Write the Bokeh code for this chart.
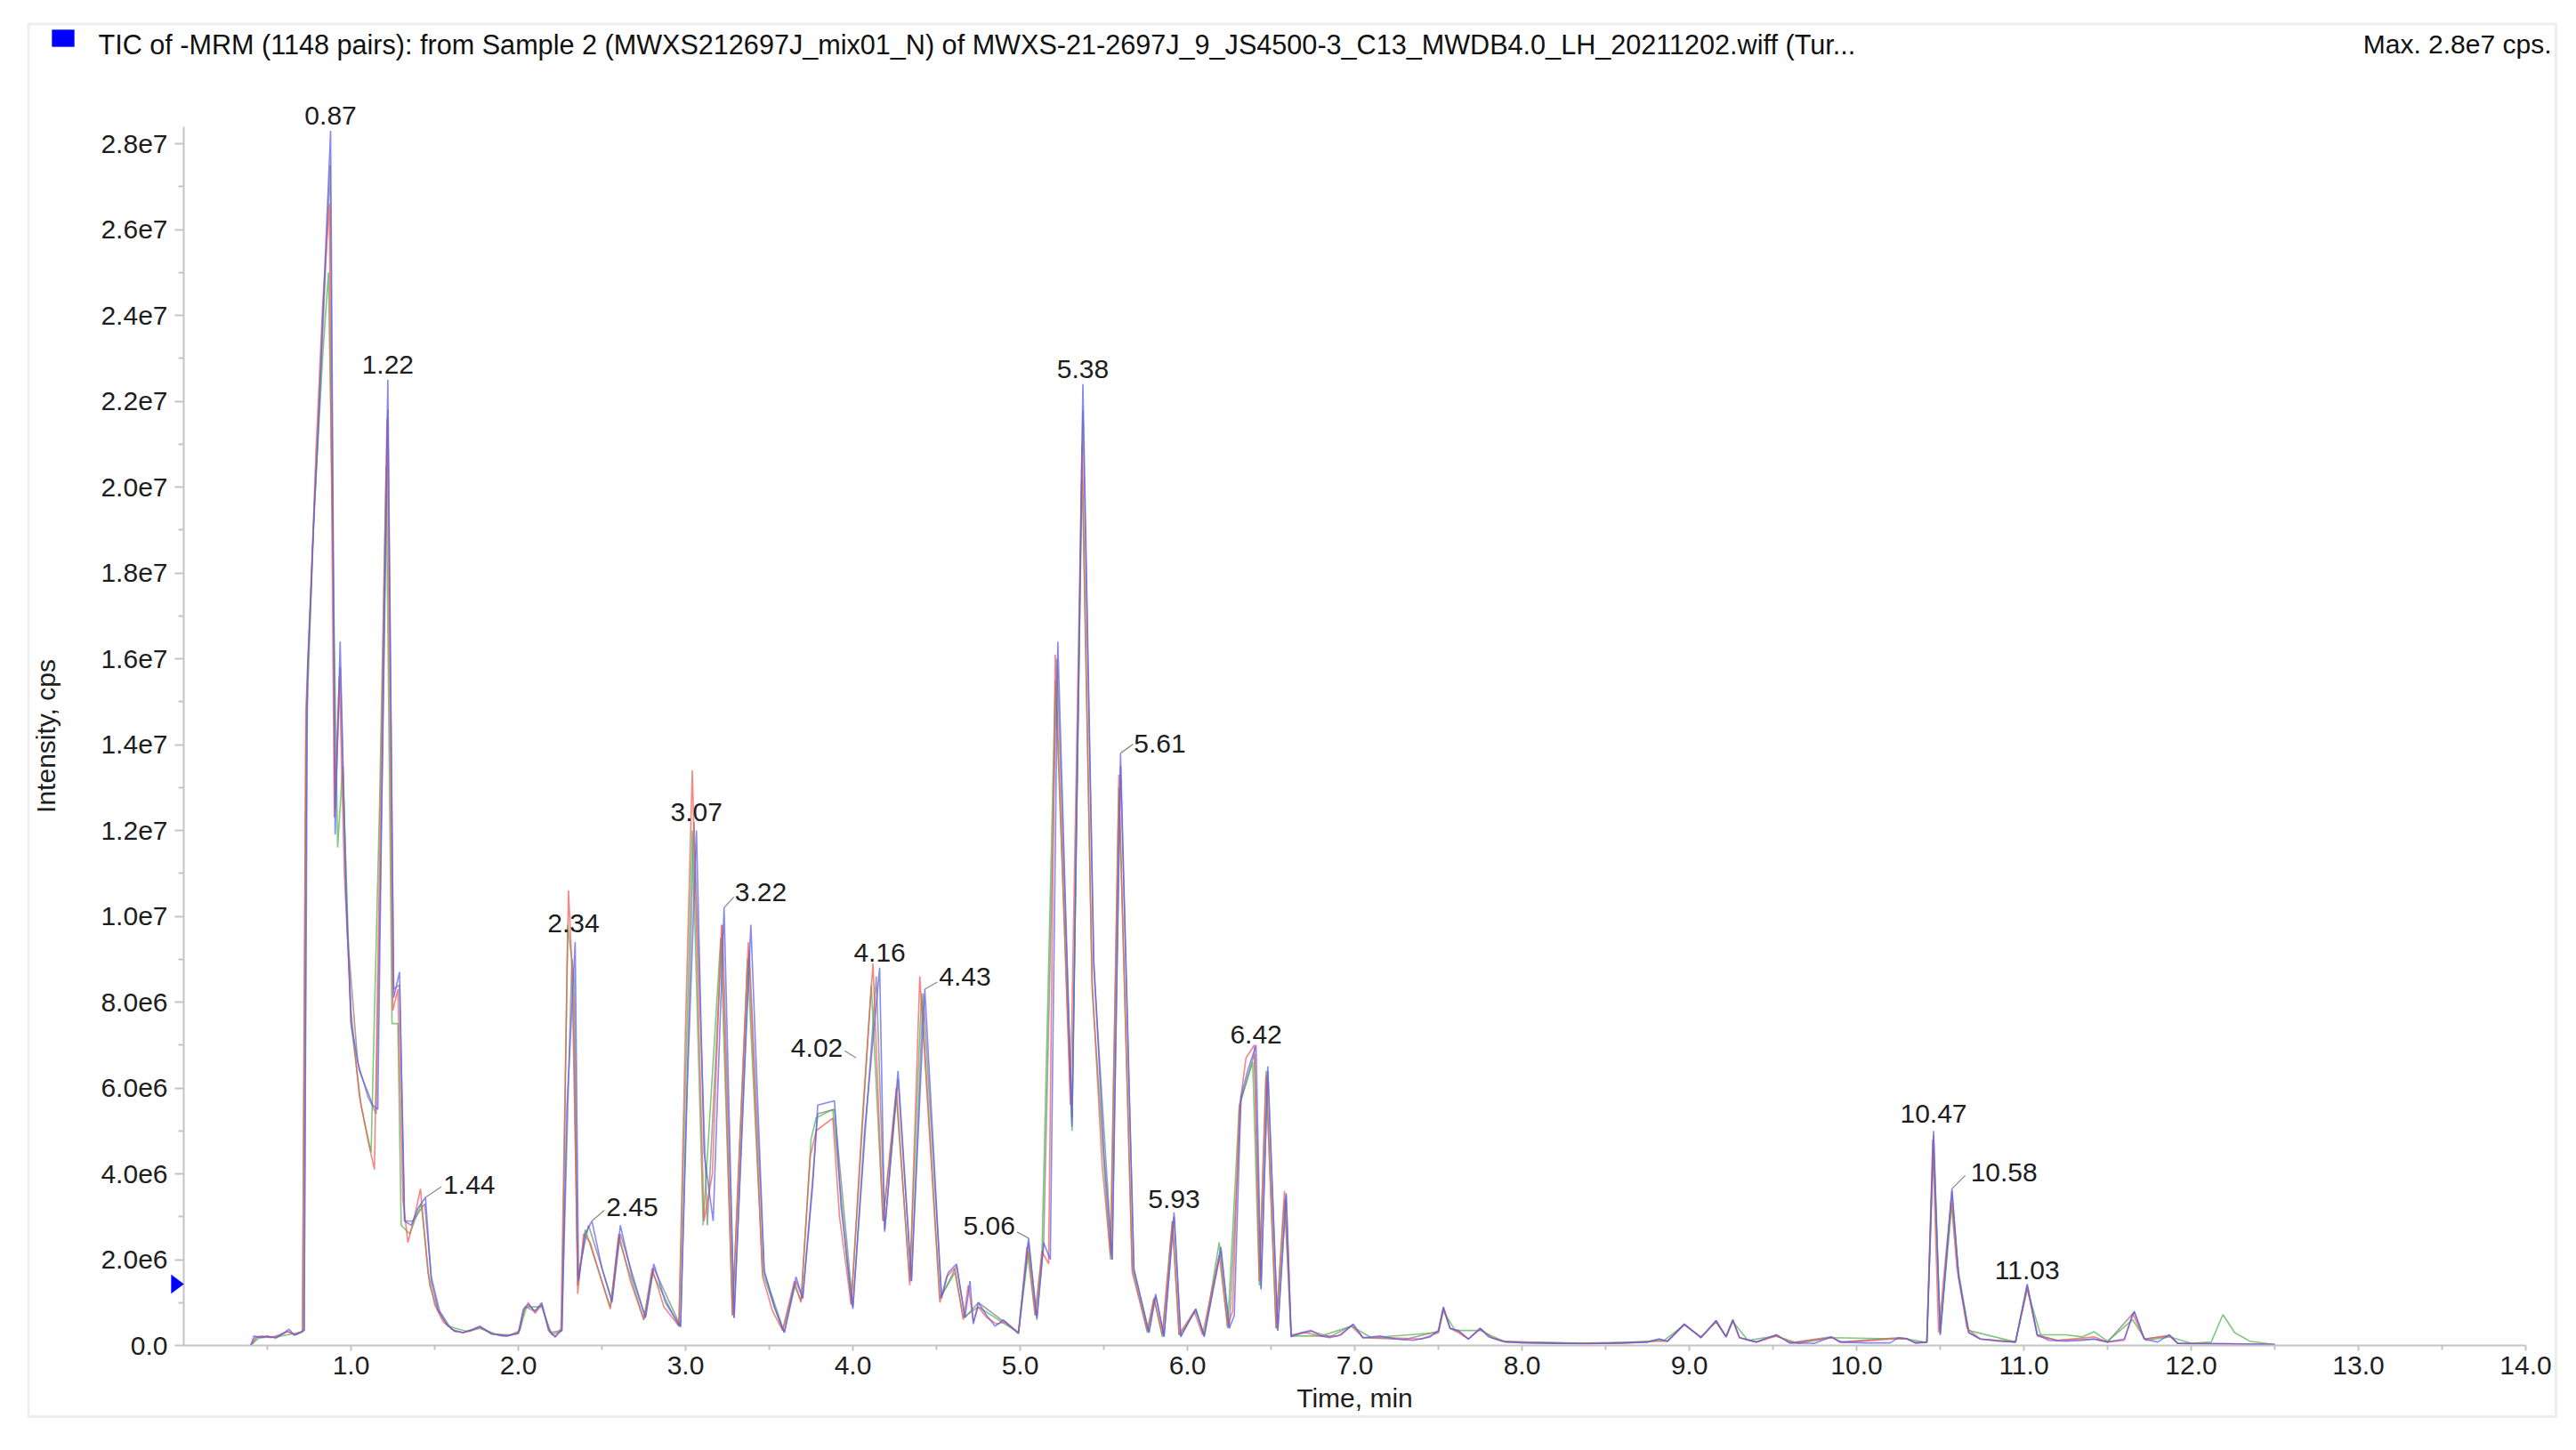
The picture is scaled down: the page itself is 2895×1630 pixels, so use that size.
from bokeh.plotting import figure
from bokeh.models import FixedTicker, Label, PolyAnnotation, ColumnDataSource
from bokeh.embed import file_html
from bokeh.resources import INLINE
from bokeh.core.properties import value

# ---------------- DATA (intensities in millions of cps) ----------------
MIO = 1e6

blue_t = [0.40, 0.42, 0.46, 0.50, 0.55, 0.59, 0.63, 0.66, 0.70, 0.72, 0.74, 0.77, 0.80, 0.84, 0.878,
          0.905, 0.935, 0.97, 1.00, 1.05, 1.10, 1.13, 1.16, 1.19, 1.22, 1.255, 1.29, 1.32, 1.36, 1.40,
          1.445, 1.48, 1.52, 1.57, 1.62, 1.67, 1.72, 1.77, 1.84, 1.93, 2.00, 2.03, 2.06, 2.10, 2.14,
          2.18, 2.22, 2.26, 2.29, 2.34, 2.36, 2.40, 2.44, 2.50, 2.56, 2.61, 2.68, 2.76, 2.81, 2.88,
          2.97, 3.01, 3.065, 3.11, 3.165, 3.23, 3.29, 3.39, 3.47, 3.53, 3.59, 3.66, 3.70, 3.76, 3.79,
          3.89, 3.93, 4.00, 4.07, 4.16, 4.19, 4.27, 4.35, 4.43, 4.53, 4.57, 4.62, 4.67, 4.70, 4.72,
          4.75, 4.80, 4.85, 4.90, 4.99, 5.05, 5.10, 5.14, 5.18, 5.225, 5.31, 5.375, 5.44, 5.50, 5.55,
          5.60, 5.68, 5.77, 5.81, 5.86, 5.92, 5.96, 6.05, 6.10, 6.20, 6.25, 6.28, 6.32, 6.36, 6.41,
          6.44, 6.48, 6.54, 6.59, 6.62, 6.68, 6.74, 6.80, 6.85, 6.92, 6.99, 7.05, 7.15, 7.25, 7.35,
          7.45, 7.50, 7.53, 7.57, 7.62, 7.68, 7.75, 7.80, 7.88, 8.00, 8.20, 8.40, 8.60, 8.75, 8.82,
          8.87, 8.97, 9.07, 9.16, 9.22, 9.26, 9.30, 9.40, 9.52, 9.60, 9.75, 9.85, 9.90, 10.05, 10.20,
          10.25, 10.30, 10.35, 10.42, 10.46, 10.50, 10.57, 10.61, 10.67, 10.74, 10.85, 10.95, 11.02, 11.08, 11.15,
          11.25, 11.35, 11.42, 11.50, 11.60, 11.66, 11.72, 11.80, 11.87, 11.92, 12.00, 12.20, 12.40, 12.50]
blue_i = [0.00, 0.22, 0.18, 0.22, 0.17, 0.27, 0.38, 0.24, 0.30, 0.36, 15.8, 18.6, 21.0, 24.8, 28.3,
          11.9, 16.4, 10.5, 7.5, 6.4, 5.9, 5.6, 5.5, 14.5, 22.5, 8.1, 8.7, 2.9, 2.8, 3.2,
          3.45, 1.5, 0.85, 0.50, 0.33, 0.30, 0.36, 0.45, 0.27, 0.22, 0.28, 0.85, 0.95, 0.80, 1.00,
          0.35, 0.20, 0.35, 5.5, 9.4, 1.5, 2.6, 2.9, 1.8, 1.0, 2.8, 1.6, 0.65, 1.9, 1.0,
          0.43, 6.0, 12.0, 4.5, 2.9, 10.2, 0.64, 9.8, 1.75, 0.9, 0.30, 1.6, 1.1, 3.75, 5.6,
          5.7, 3.2, 0.85, 5.0, 8.8, 2.65, 6.4, 1.5, 8.3, 1.1, 1.7, 1.9, 0.65, 1.5, 0.50,
          1.0, 0.7, 0.45, 0.6, 0.27, 2.5, 0.6, 2.4, 2.0, 16.4, 5.1, 22.4, 9.0, 4.5, 2.0,
          13.8, 1.75, 0.30, 1.2, 0.20, 3.1, 0.20, 0.85, 0.20, 2.3, 0.40, 0.70, 5.8, 6.4, 7.0,
          1.3, 6.5, 0.35, 3.55, 0.20, 0.30, 0.35, 0.22, 0.18, 0.25, 0.50, 0.18, 0.22, 0.15, 0.12,
          0.20, 0.35, 0.90, 0.40, 0.35, 0.15, 0.40, 0.20, 0.10, 0.06, 0.05, 0.04, 0.06, 0.08, 0.15,
          0.10, 0.50, 0.18, 0.58, 0.20, 0.60, 0.18, 0.08, 0.25, 0.06, 0.05, 0.20, 0.08, 0.06, 0.06,
          0.18, 0.16, 0.06, 0.08, 5.0, 0.25, 3.65, 1.6, 0.30, 0.15, 0.10, 0.08, 1.43, 0.25, 0.12,
          0.10, 0.12, 0.15, 0.08, 0.15, 0.80, 0.15, 0.08, 0.25, 0.05, 0.04, 0.04, 0.03, 0.02]

red_t = [0.40, 0.43, 0.47, 0.52, 0.57, 0.62, 0.66, 0.71, 0.73, 0.76, 0.79, 0.83, 0.87, 0.90, 0.93,
         0.96, 1.00, 1.05, 1.10, 1.14, 1.18, 1.215, 1.25, 1.28, 1.31, 1.34, 1.38, 1.415, 1.46, 1.50,
         1.55, 1.62, 1.67, 1.72, 1.77, 1.84, 1.93, 2.00, 2.03, 2.06, 2.10, 2.14, 2.18, 2.22, 2.255,
         2.30, 2.33, 2.355, 2.39, 2.43, 2.49, 2.55, 2.60, 2.67, 2.75, 2.80, 2.87, 2.96, 3.00, 3.04,
         3.11, 3.16, 3.215, 3.28, 3.375, 3.46, 3.52, 3.58, 3.65, 3.69, 3.745, 3.78, 3.88, 3.92, 3.99,
         4.06, 4.12, 4.18, 4.26, 4.34, 4.40, 4.52, 4.56, 4.61, 4.66, 4.69, 4.72, 4.75, 4.80, 4.86,
         4.91, 4.99, 5.04, 5.09, 5.13, 5.17, 5.21, 5.30, 5.37, 5.43, 5.49, 5.54, 5.59, 5.67, 5.76,
         5.80, 5.85, 5.91, 5.95, 6.04, 6.09, 6.19, 6.24, 6.27, 6.31, 6.35, 6.40, 6.43, 6.47, 6.53,
         6.58, 6.62, 6.70, 6.80, 6.90, 6.98, 7.05, 7.20, 7.40, 7.50, 7.53, 7.57, 7.62, 7.68, 7.75,
         7.82, 7.90, 8.20, 8.60, 8.80, 8.87, 8.97, 9.07, 9.16, 9.22, 9.26, 9.30, 9.40, 9.52, 9.62,
         9.85, 9.92, 10.25, 10.30, 10.36, 10.42, 10.455, 10.49, 10.565, 10.60, 10.66, 10.74, 10.95, 11.02, 11.08,
         11.20, 11.42, 11.50, 11.60, 11.65, 11.72, 11.87, 11.92, 12.10, 12.40, 12.50]
red_i = [0.00, 0.20, 0.22, 0.18, 0.25, 0.32, 0.26, 0.33, 14.8, 17.5, 20.8, 24.2, 26.6, 12.3, 15.6,
         11.0, 7.8, 5.8, 4.8, 4.1, 13.5, 21.6, 7.8, 8.3, 3.4, 2.4, 3.0, 3.65, 1.7, 0.95,
         0.55, 0.33, 0.30, 0.36, 0.42, 0.27, 0.22, 0.30, 0.80, 1.00, 0.75, 0.95, 0.40, 0.20, 0.40,
         10.6, 8.0, 1.2, 2.6, 2.4, 1.6, 0.85, 2.6, 1.5, 0.60, 1.8, 0.9, 0.45, 7.5, 13.4,
         2.9, 4.0, 9.8, 0.70, 9.4, 1.6, 0.8, 0.35, 1.5, 1.0, 4.4, 5.0, 5.3, 3.0, 0.95,
         5.5, 8.9, 2.9, 6.0, 1.4, 8.6, 1.0, 1.6, 1.8, 0.6, 1.4, 0.55, 0.9, 0.65, 0.5,
         0.55, 0.3, 2.3, 0.7, 2.2, 1.9, 16.1, 5.6, 21.0, 8.5, 4.2, 2.1, 13.3, 1.7, 0.35,
         1.1, 0.25, 2.9, 0.25, 0.8, 0.25, 2.1, 0.45, 0.8, 5.5, 6.7, 7.0, 1.5, 6.3, 0.4,
         3.6, 0.25, 0.3, 0.22, 0.22, 0.45, 0.18, 0.18, 0.15, 0.3, 0.85, 0.4, 0.3, 0.15, 0.38,
         0.18, 0.08, 0.05, 0.05, 0.10, 0.10, 0.48, 0.20, 0.55, 0.22, 0.58, 0.18, 0.08, 0.22, 0.06,
         0.18, 0.07, 0.16, 0.15, 0.06, 0.07, 4.8, 0.3, 3.4, 1.8, 0.4, 0.15, 0.08, 1.35, 0.22,
         0.12, 0.20, 0.08, 0.12, 0.75, 0.15, 0.22, 0.05, 0.04, 0.03, 0.02]

green_t = [0.40, 0.45, 0.55, 0.65, 0.71, 0.73, 0.78, 0.83, 0.865, 0.92, 0.95, 1.00, 1.06, 1.12, 1.17,
           1.21, 1.245, 1.28, 1.30, 1.35, 1.42, 1.47, 1.52, 1.58, 1.70, 1.77, 1.90, 2.00, 2.05, 2.14,
           2.20, 2.26, 2.295, 2.335, 2.355, 2.40, 2.55, 2.60, 2.75, 2.80, 2.96, 3.04, 3.105, 3.21, 3.28,
           3.37, 3.46, 3.58, 3.65, 3.69, 3.75, 3.78, 3.88, 3.99, 4.11, 4.18, 4.26, 4.34, 4.41, 4.52,
           4.61, 4.66, 4.75, 4.99, 5.05, 5.09, 5.13, 5.21, 5.31, 5.37, 5.43, 5.54, 5.59, 5.67, 5.76,
           5.80, 5.85, 5.91, 5.95, 6.05, 6.10, 6.19, 6.24, 6.31, 6.39, 6.43, 6.47, 6.53, 6.58, 6.62,
           6.80, 6.98, 7.10, 7.50, 7.53, 7.60, 7.75, 7.90, 8.50, 8.85, 8.97, 9.07, 9.16, 9.22, 9.26,
           9.35, 9.52, 9.65, 9.85, 10.30, 10.42, 10.46, 10.50, 10.57, 10.61, 10.67, 10.95, 11.02, 11.10, 11.25,
           11.35, 11.42, 11.50, 11.65, 11.73, 11.87, 12.00, 12.12, 12.19, 12.26, 12.35, 12.50]
green_i = [0.00, 0.18, 0.20, 0.27, 0.32, 14.0, 19.5, 23.0, 25.0, 11.6, 13.5, 7.5, 5.6, 4.5, 12.5,
           20.5, 7.5, 7.5, 2.8, 2.6, 3.3, 1.4, 0.8, 0.45, 0.32, 0.40, 0.22, 0.28, 0.90, 0.90,
           0.25, 0.35, 9.8, 8.5, 1.4, 2.7, 0.9, 2.5, 0.6, 1.7, 0.45, 12.0, 2.8, 9.5, 0.7,
           9.0, 1.7, 0.35, 1.4, 1.05, 4.8, 5.3, 5.5, 0.95, 8.4, 2.9, 5.8, 1.5, 8.2, 1.1,
           1.7, 0.65, 0.9, 0.3, 2.2, 0.7, 2.1, 15.5, 5.0, 20.5, 8.3, 2.0, 13.0, 1.8, 0.3,
           1.1, 0.2, 2.9, 0.25, 0.8, 0.25, 2.4, 0.4, 5.6, 6.6, 1.4, 6.4, 0.4, 3.4, 0.22,
           0.22, 0.45, 0.18, 0.30, 0.80, 0.35, 0.35, 0.08, 0.05, 0.12, 0.48, 0.20, 0.55, 0.20, 0.56,
           0.12, 0.22, 0.05, 0.18, 0.15, 0.07, 4.6, 0.3, 3.3, 1.7, 0.35, 0.08, 1.3, 0.25, 0.25,
           0.20, 0.32, 0.10, 0.60, 0.12, 0.20, 0.05, 0.08, 0.72, 0.30, 0.10, 0.02]

gray_t = [0.40, 0.44, 0.50, 0.56, 0.62, 0.67, 0.72, 0.735, 0.78, 0.83, 0.875, 0.905, 0.935, 0.98, 1.04,
          1.10, 1.15, 1.19, 1.22, 1.255, 1.29, 1.32, 1.37, 1.44, 1.48, 1.53, 1.60, 1.67, 1.77, 1.85,
          1.95, 2.01, 2.04, 2.10, 2.14, 2.19, 2.26, 2.32, 2.355, 2.42, 2.56, 2.61, 2.76, 2.81, 2.97,
          3.05, 3.13, 3.22, 3.29, 3.38, 3.47, 3.59, 3.66, 3.70, 3.76, 3.79, 3.89, 4.00, 4.14, 4.19,
          4.27, 4.35, 4.42, 4.53, 4.62, 4.67, 4.75, 4.99, 5.05, 5.10, 5.14, 5.22, 5.31, 5.375, 5.44,
          5.55, 5.60, 5.68, 5.77, 5.81, 5.86, 5.92, 5.96, 6.05, 6.10, 6.20, 6.25, 6.32, 6.40, 6.44,
          6.48, 6.54, 6.59, 6.62, 6.74, 6.85, 6.99, 7.05, 7.30, 7.50, 7.53, 7.57, 7.62, 7.68, 7.75,
          7.82, 7.90, 8.30, 8.75, 8.82, 8.87, 8.97, 9.07, 9.16, 9.22, 9.26, 9.30, 9.40, 9.52, 9.60,
          9.85, 9.90, 10.25, 10.30, 10.35, 10.42, 10.46, 10.50, 10.57, 10.61, 10.67, 10.74, 10.95, 11.02, 11.08,
          11.20, 11.42, 11.50, 11.66, 11.72, 11.87, 11.92, 12.20, 12.50]
gray_i = [0.00, 0.20, 0.20, 0.20, 0.33, 0.25, 0.35, 15.0, 19.5, 23.5, 27.5, 12.5, 15.8, 9.5, 6.6,
          5.8, 5.4, 14.0, 21.8, 8.3, 8.4, 2.9, 2.9, 3.3, 1.6, 0.8, 0.38, 0.30, 0.43, 0.27,
          0.24, 0.35, 0.90, 0.80, 0.95, 0.30, 0.35, 9.0, 1.6, 2.8, 1.05, 2.6, 0.65, 1.8, 0.45,
          12.2, 2.8, 9.8, 0.65, 9.2, 1.7, 0.30, 1.5, 1.1, 3.9, 5.4, 5.5, 0.9, 8.6, 2.7,
          6.2, 1.5, 8.2, 1.15, 1.85, 0.65, 1.0, 0.3, 2.4, 0.65, 2.3, 16.0, 5.3, 21.8, 8.8,
          2.0, 13.5, 1.8, 0.3, 1.15, 0.22, 3.0, 0.22, 0.85, 0.22, 2.2, 0.4, 5.7, 6.8, 1.35,
          6.4, 0.35, 3.5, 0.22, 0.33, 0.20, 0.48, 0.18, 0.14, 0.33, 0.88, 0.40, 0.33, 0.15, 0.40,
          0.18, 0.10, 0.05, 0.08, 0.15, 0.10, 0.50, 0.18, 0.58, 0.20, 0.60, 0.18, 0.08, 0.25, 0.06,
          0.20, 0.08, 0.18, 0.16, 0.06, 0.08, 4.9, 0.25, 3.6, 1.6, 0.30, 0.15, 0.08, 1.4, 0.25,
          0.12, 0.15, 0.08, 0.78, 0.15, 0.24, 0.05, 0.04, 0.02]

# annotated peaks: label text, apex time, apex intensity (millions)
peak_labels = ["0.87", "1.22", "1.44", "2.34", "2.45", "3.07", "3.22", "4.02", "4.16",
               "4.43", "5.06", "5.38", "5.61", "5.93", "6.42", "10.47", "10.58", "11.03"]
peak_t = [0.878, 1.22, 1.445, 2.34, 2.44, 3.065, 3.23, 4.02, 4.16,
          4.43, 5.05, 5.375, 5.60, 5.92, 6.41, 10.46, 10.57, 11.02]
peak_i = [28.3, 22.5, 3.45, 9.4, 2.9, 12.0, 10.2, 6.7, 8.8,
          8.3, 2.5, 22.4, 13.8, 3.1, 7.0, 5.0, 3.65, 1.43]

x_tick_values = [1, 2, 3, 4, 5, 6, 7, 8, 9, 10, 11, 12, 13, 14]
x_tick_labels = ["1.0", "2.0", "3.0", "4.0", "5.0", "6.0", "7.0", "8.0", "9.0", "10.0",
                 "11.0", "12.0", "13.0", "14.0"]
x_minor_values = [0.5, 1.5, 2.5, 3.5, 4.5, 5.5, 6.5, 7.5, 8.5, 9.5, 10.5, 11.5, 12.5, 13.5]
y_tick_values = [0, 2000000, 4000000, 6000000, 8000000, 10000000, 12000000, 14000000,
                 16000000, 18000000, 20000000, 22000000, 24000000, 26000000, 28000000]
y_tick_labels = ["0.0", "2.0e6", "4.0e6", "6.0e6", "8.0e6", "1.0e7", "1.2e7", "1.4e7",
                 "1.6e7", "1.8e7", "2.0e7", "2.2e7", "2.4e7", "2.6e7", "2.8e7"]
y_minor_values = [1000000, 3000000, 5000000, 7000000, 9000000, 11000000, 13000000, 15000000,
                  17000000, 19000000, 21000000, 23000000, 25000000, 27000000]

title_left = ("TIC of -MRM (1148 pairs): from Sample 2 (MWXS212697J_mix01_N) of "
              "MWXS-21-2697J_9_JS4500-3_C13_MWDB4.0_LH_20211202.wiff (Tur...")
title_right = "Max. 2.8e7 cps."
x_label = "Time, min"
y_label = "Intensity, cps"
marker_level = 1.43  # millions, blue threshold marker on the y axis

# ---------------- LAYOUT / STYLE ----------------
CANVAS_W, CANVAS_H = 2880, 1610
AX_X0 = 206          # page x of t = 0
PX_PER_MIN = 188.0
AX_Y0 = 1512         # page y of intensity 0
PX_PER_MIO = 48.25
AXIS_T_END = 14
AXIS_I_END = 28.4e6


def page_to_data(X, Y):
    return (X - AX_X0) / PX_PER_MIN, (AX_Y0 - Y) / PX_PER_MIO * MIO


PX_T = 1.0 / PX_PER_MIN
PX_I = MIO / PX_PER_MIO

x0, y_top = page_to_data(0, 0)
x1, y_bot = page_to_data(CANVAS_W, CANVAS_H)

FONT_NAME = "Liberation Sans"
TXT = "#1e1e1e"
AXIS_C = "#c4c4c4"
FS = "30px"
TITLE_FS = "30.6px"
TOP_SHIFT = -9       # extra lift for labels sitting above their peak

p = figure(width=CANVAS_W, height=CANVAS_H, output_backend="svg", toolbar_location=None,
           x_range=(x0, x1), y_range=(y_bot, y_top),
           min_border=0, min_border_left=0, min_border_right=0, min_border_top=0, min_border_bottom=0)
p.background_fill_color = "white"
p.border_fill_color = "white"
p.outline_line_color = None
p.xgrid.visible = False
p.ygrid.visible = False

# series
series = [(gray_t, gray_i, "#808080"), (green_t, green_i, "#4fb34f"),
          (red_t, red_i, "#f25858"), (blue_t, blue_i, "#5a5af2")]
for ts, vs, col in series:
    src = ColumnDataSource(dict(t=ts, v=[a * MIO for a in vs]))
    p.line("t", "v", source=src, line_color=col, line_width=1.6, line_alpha=0.72)

# axes (drawn at fixed data locations so the frame can hold the whole picture)
for ax in (p.xaxis[0], p.yaxis[0]):
    ax.fixed_location = 0
    ax.axis_line_color = AXIS_C
    ax.axis_line_width = 2
    ax.major_tick_line_color = AXIS_C
    ax.minor_tick_line_color = AXIS_C
    ax.major_tick_line_width = 2
    ax.minor_tick_line_width = 2
    ax.major_tick_in = 0
    ax.minor_tick_in = 0
    ax.major_label_text_font = FONT_NAME
    ax.major_label_text_font_size = FS
    ax.major_label_text_color = TXT
    ax.axis_label_text_font = FONT_NAME
    ax.axis_label_text_font_size = FS
    ax.axis_label_text_font_style = "normal"
    ax.axis_label_text_color = TXT

xa = p.xaxis[0]
xa.bounds = (0, AXIS_T_END)
xa.ticker = FixedTicker(ticks=x_tick_values, minor_ticks=x_minor_values)
xa.major_label_overrides = {v: s for v, s in zip(x_tick_values, x_tick_labels)}
xa.major_tick_out = 6
xa.minor_tick_out = 5
xa.major_label_standoff = 6
xa.axis_label = x_label
xa.axis_label_standoff = 7

ya = p.yaxis[0]
ya.bounds = (0, AXIS_I_END)
ya.ticker = FixedTicker(ticks=y_tick_values, minor_ticks=y_minor_values)
ya.major_label_overrides = {v: s for v, s in zip(y_tick_values, y_tick_labels)}
ya.major_tick_out = 10
ya.minor_tick_out = 6
ya.major_label_standoff = 8
ya.axis_label = y_label
ya.axis_label_standoff = 42

# peak labels: (mode, leader dx, leader dy, text dx, text dy) in screen px (dy<0 = up)
label_layout = [("top", 0, 0, 0, -8), ("top", 0, 0, 0, -8), ("right", 18, -12, 20, -14),
                ("top", 0, 0, -2, -12), ("right", 14, -12, 16, -16), ("top", 0, 0, 0, -12),
                ("right", 11, -12, 12, -17), ("left", -13, -8, -15, -11), ("top", 0, 0, 0, -8),
                ("right", 14, -8, 16, -14), ("left", -13, -7, -15, -14), ("top", 0, 0, 0, -8),
                ("right", 14, -10, 15, -11), ("top", 0, 0, 0, -6), ("top", 0, 0, 0, -3),
                ("top", 0, 0, 0, -10), ("right", 15, -15, 21, -18), ("top", 0, 0, 0, -7)]

groups = {"top": ([], [], []), "right": ([], [], []), "left": ([], [], [])}
lx0, ly0, lx1, ly1 = [], [], [], []
for lab, t, v, (mode, ldx, ldy, tdx, tdy) in zip(peak_labels, peak_t, peak_i, label_layout):
    y = v * MIO
    if mode == "top":
        tdy += TOP_SHIFT
    gx, gy, gt = groups[mode]
    gx.append(t + tdx * PX_T)
    gy.append(y - tdy * PX_I)
    gt.append(lab)
    if mode != "top":
        lx0.append(t)
        ly0.append(y)
        lx1.append(t + ldx * PX_T)
        ly1.append(y - ldy * PX_I)

p.segment(lx0, ly0, lx1, ly1, line_color="#8c8c8c", line_width=1.3)
for mode, align, base in (("top", "center", "alphabetic"), ("right", "left", "middle"),
                          ("left", "right", "middle")):
    gx, gy, gt = groups[mode]
    p.text(x=gx, y=gy, text=gt, text_align=align, text_baseline=base, text_font=value(FONT_NAME),
           text_font_size=value(FS), text_color=TXT)

# title line
tx, ty = page_to_data(110, 49)
p.add_layout(Label(x=tx, y=ty, text=title_left, text_font=FONT_NAME, text_font_size=TITLE_FS,
                   text_color="#111111", text_align="left", text_baseline="middle"))
tx, ty = page_to_data(2867, 49)
p.add_layout(Label(x=tx, y=ty, text=title_right, text_font=FONT_NAME, text_font_size=FS,
                   text_color="#111111", text_align="right", text_baseline="middle"))

# blue square before the title
sx0, sy0 = page_to_data(58, 33)
sx1, sy1 = page_to_data(83, 52)
p.add_layout(PolyAnnotation(xs=[sx0, sx1, sx1, sx0], ys=[sy0, sy0, sy1, sy1],
                            fill_color="#0000ff", fill_alpha=1.0, line_color="#0000ff", line_width=1))

# blue triangle marker on the y axis
tl, _ = page_to_data(192, 0)
half = 10.5 * PX_I
lvl = marker_level * MIO
p.add_layout(PolyAnnotation(xs=[tl, tl, 0], ys=[lvl + half, lvl - half, lvl],
                            fill_color="#0000ff", fill_alpha=1.0, line_color="#0000ff", line_width=1))

# outer frame around the whole chart
bx0, by0 = page_to_data(31.5, 26.5)
bx1, by1 = page_to_data(2872, 1592)
p.add_layout(PolyAnnotation(xs=[bx0, bx1, bx1, bx0], ys=[by0, by0, by1, by1],
                            fill_alpha=0.0, line_color="#c6c6c6", line_width=3))

open("out.html", "w").write(file_html(p, INLINE))
